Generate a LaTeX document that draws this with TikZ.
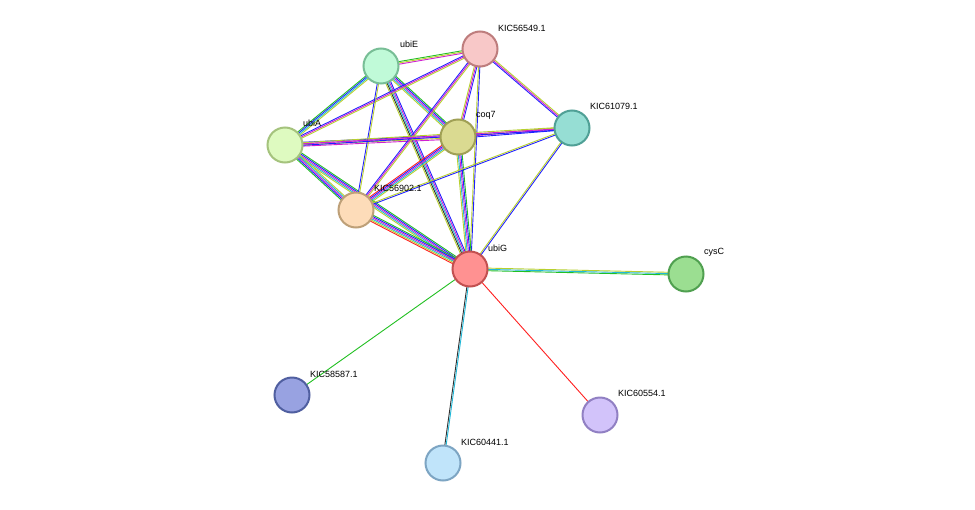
\documentclass[tikz,border=0pt]{standalone}
\usepackage{fontspec}
\setmainfont{Liberation Sans}
\usetikzlibrary{calc}
\definecolor{eG}{HTML}{22C022}
\definecolor{eR}{HTML}{FF2020}
\definecolor{eB}{HTML}{2020FF}
\definecolor{eK}{HTML}{303030}
\definecolor{eM}{HTML}{D020D0}
\definecolor{eC}{HTML}{20B8D8}
\definecolor{eY}{HTML}{B8D030}
\newcommand{\medge}[3]{%
  \foreach \c [count=\i] in {#3} {\xdef\nn{\i}}%
  \foreach \c [count=\i] in {#3} {%
    \pgfmathsetmacro{\off}{(\i-(\nn+1)/2)*1.3}%
    \draw[\c,line width=0.9pt] ($(#1)!\off pt!90:(#2)$) -- ($(#2)!\off pt!-90:(#1)$);}}
\tikzset{prot/.style={circle,minimum size=35pt,inner sep=0pt,line width=2pt},
  lab/.style={anchor=west,font=\fontsize{9}{10}\selectfont,inner sep=0pt}}
\begin{document}
\begin{tikzpicture}[x=1pt,y=-1pt]
\useasboundingbox[fill=white] (0,0) rectangle (975,509);
\coordinate (ubiE) at (381,66);
\coordinate (K549) at (480,49);
\coordinate (ubiA) at (285,145);
\coordinate (coq7) at (458,137);
\coordinate (K079) at (572,128);
\coordinate (K902) at (356,210);
\coordinate (ubiG) at (470,269);
\coordinate (cysC) at (686,274);
\coordinate (K587) at (292,395);
\coordinate (K554) at (600,415);
\coordinate (K441) at (443,463);
\medge{ubiG}{K587}{eG}
\medge{ubiG}{K554}{eR}
\medge{ubiG}{K441}{eK,eC}
\medge{ubiG}{cysC}{eG,eC,eY}
\medge{ubiG}{K079}{eB,eY}
\medge{ubiG}{K549}{eB,eY}
\medge{ubiG}{coq7}{eG,eB,eM,eC,eY}
\medge{ubiG}{ubiE}{eB,eM,eC,eK,eY}
\medge{ubiG}{ubiA}{eG,eB,eM,eC,eY}
\medge{ubiG}{K902}{eG,eB,eM,eC,eY,eR}
\medge{coq7}{K079}{eB,eM,eY}
\medge{coq7}{K549}{eB,eM,eY}
\medge{coq7}{ubiE}{eG,eB,eM,eC,eY}
\medge{coq7}{ubiA}{eB,eM,eY,eM}
\medge{coq7}{K902}{eR,eB,eM,eC,eY}
\medge{K549}{ubiE}{eG,eY,eM}
\medge{K549}{ubiA}{eB,eM,eY}
\medge{K549}{K902}{eB,eM,eY}
\medge{K549}{K079}{eB,eM,eY}
\medge{ubiE}{ubiA}{eG,eB,eC,eY}
\medge{ubiE}{K902}{eB,eY}
\medge{ubiA}{K902}{eG,eB,eM,eC,eY}
\medge{ubiA}{K079}{eB,eM,eY}
\medge{K902}{K079}{eB,eY}
\node[prot,fill={rgb,255:red,192;green,250;blue,216},draw={rgb,255:red,120;green,190;blue,150}] (nubiE) at (ubiE) {};
\node[prot,fill={rgb,255:red,248;green,200;blue,200},draw={rgb,255:red,190;green,125;blue,125}] (nK549) at (K549) {};
\node[prot,fill={rgb,255:red,222;green,250;blue,192},draw={rgb,255:red,165;green,195;blue,125}] (nubiA) at (ubiA) {};
\node[prot,fill={rgb,255:red,218;green,218;blue,145},draw={rgb,255:red,160;green,160;blue,85}] (ncoq7) at (coq7) {};
\node[prot,fill={rgb,255:red,150;green,222;blue,212},draw={rgb,255:red,80;green,160;blue,150}] (nK079) at (K079) {};
\node[prot,fill={rgb,255:red,253;green,220;blue,185},draw={rgb,255:red,190;green,160;blue,120}] (nK902) at (K902) {};
\node[prot,fill={rgb,255:red,255;green,145;blue,145},draw={rgb,255:red,195;green,80;blue,80}] (nubiG) at (ubiG) {};
\node[prot,fill={rgb,255:red,155;green,222;blue,145},draw={rgb,255:red,80;green,160;blue,80}] (ncysC) at (cysC) {};
\node[prot,fill={rgb,255:red,152;green,162;blue,225},draw={rgb,255:red,80;green,95;blue,160}] (nK587) at (K587) {};
\node[prot,fill={rgb,255:red,210;green,195;blue,250},draw={rgb,255:red,145;green,128;blue,195}] (nK554) at (K554) {};
\node[prot,fill={rgb,255:red,192;green,228;blue,250},draw={rgb,255:red,125;green,165;blue,195}] (nK441) at (K441) {};
\node[lab] (l1) at (400,44) {ubiE};
\node[lab] (l2) at (498,28) {KIC56549.1};
\node[lab] (l3) at (303,123) {ubiA};
\node[lab] (l4) at (476,115) {coq7};
\node[lab] (l5) at (590,106) {KIC61079.1};
\node[lab] (l6) at (374,188) {KIC56902.1};
\node[lab] (l7) at (488,248) {ubiG};
\node[lab] (l8) at (704,252) {cysC};
\node[lab] (l9) at (310,374) {KIC58587.1};
\node[lab] (l10) at (618,393) {KIC60554.1};
\node[lab] (l11) at (461,442) {KIC60441.1};
\end{tikzpicture}
\end{document}
